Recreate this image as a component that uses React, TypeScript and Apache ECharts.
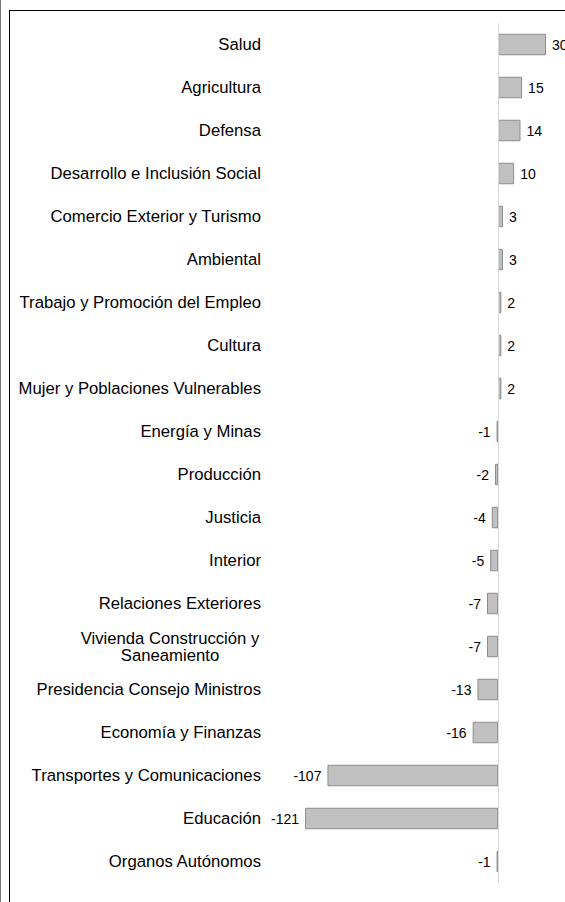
import React, { useEffect, useRef } from "react";
import * as echarts from "echarts";

const categories = [
  "Salud",
  "Agricultura",
  "Defensa",
  "Desarrollo e Inclusión Social",
  "Comercio Exterior y Turismo",
  "Ambiental",
  "Trabajo y Promoción del Empleo",
  "Cultura",
  "Mujer y Poblaciones Vulnerables",
  "Energía y Minas",
  "Producción",
  "Justicia",
  "Interior",
  "Relaciones Exteriores",
  "Vivienda Construcción y\nSaneamiento",
  "Presidencia Consejo Ministros",
  "Economía y Finanzas",
  "Transportes y Comunicaciones",
  "Educación",
  "Organos Autónomos",
];

const values = [30, 15, 14, 10, 3, 3, 2, 2, 2, -1, -2, -4, -5, -7, -7, -13, -16, -107, -121, -1];

const FONT = "Arial, 'Liberation Sans', sans-serif";

export default function App() {
  const ref = useRef<HTMLDivElement>(null);

  useEffect(() => {
    if (!ref.current) return;
    const chart = echarts.init(ref.current, undefined, { renderer: "svg" });
    const yData = categories.map((c) =>
      c.includes("\n")
        ? { value: c, textStyle: { align: "center", padding: [0, 182, 0, 0], lineHeight: 17 } }
        : c
    );
    chart.setOption({
      animation: false,
      grid: { left: 270, top: 23, width: 292, height: 860 },
      xAxis: {
        type: "value",
        min: -143,
        max: 40,
        show: false,
        splitLine: { show: false },
      },
      yAxis: {
        type: "category",
        inverse: true,
        data: yData,
        axisLine: { show: false },
        axisTick: { show: false },
        axisLabel: {
          margin: 9,
          color: "#000",
          fontSize: 16.7,
          fontFamily: FONT,
          interval: 0,
        },
      },
      series: [
        {
          type: "bar",
          data: values.map((v) => ({
            value: v,
            label: {
              show: true,
              position: v >= 0 ? "right" : "left",
              distance: 6,
              color: "#000",
              fontSize: 14,
              fontFamily: FONT,
            },
          })),
          barWidth: "50%",
          itemStyle: { color: "#c0c0c0", borderColor: "#8c8c8c", borderWidth: 1 },
          markLine: {
            silent: true,
            symbol: "none",
            label: { show: false },
            lineStyle: { color: "#d9d9d9", type: "solid", width: 1 },
            data: [{ xAxis: 0 }],
          },
        },
      ],
      graphic: [
        { type: "line", shape: { x1: 0.5, y1: 0, x2: 0.5, y2: 902 }, style: { stroke: "#777", lineWidth: 1 } },
        { type: "line", shape: { x1: 9.5, y1: 10, x2: 9.5, y2: 902 }, style: { stroke: "#000", lineWidth: 1 } },
        { type: "line", shape: { x1: 9, y1: 10.5, x2: 565, y2: 10.5 }, style: { stroke: "#000", lineWidth: 1 } },
      ],
    });
    return () => chart.dispose();
  }, []);

  return (
    <div
      ref={ref}
      style={{ position: "absolute", left: 0, top: 0, width: 565, height: 902 }}
    />
  );
}
